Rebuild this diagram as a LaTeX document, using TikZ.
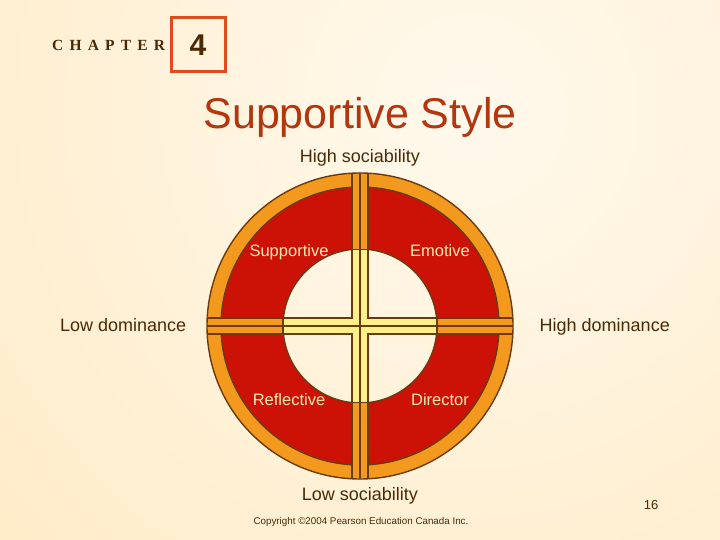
\documentclass[tikz,border=0pt]{standalone}
\usepackage{fontspec}
\setmainfont{Liberation Sans}
\newfontfamily\chapfont[LetterSpace=40]{Liberation Serif}
\definecolor{bglight}{HTML}{FFF9EC}
\definecolor{bgdark}{HTML}{FFE2AE}
\definecolor{chapred}{HTML}{E04A1C}
\definecolor{browntext}{HTML}{4A2A05}
\definecolor{titlecol}{HTML}{B3360F}
\definecolor{ringorange}{HTML}{F39A1E}
\definecolor{ringred}{HTML}{CC1206}
\definecolor{outline}{HTML}{6B3A10}
\definecolor{baryellow}{HTML}{FFF08A}
\definecolor{labelcream}{HTML}{FFE8B0}
\tikzset{
  lbl/.style={text=browntext, font=\fontsize{18}{21}\selectfont, inner sep=0pt},
  ringlbl/.style={text=labelcream, font=\fontsize{16.5}{19}\selectfont, inner sep=0pt, anchor=base},
  edge/.style={draw=outline, line width=1.4pt, line join=miter},
}
\begin{document}
\begin{tikzpicture}[x=1pt,y=-1pt]
\useasboundingbox (0,0) rectangle (720,540);
\begin{scope}
  \clip (0,0) rectangle (720,540);
  \shade[inner color=bglight, outer color=bgdark] (470,110) circle (1100);
\end{scope}

% chapter header
\node[anchor=base west, text=browntext, font=\fontsize{15.5}{18}\selectfont\bfseries\chapfont, inner sep=0pt] (chap) at (52,51) {CHAPTER};
\node[draw=chapred, line width=3pt, minimum size=54pt, inner sep=0pt, text=browntext, font=\fontsize{30}{34}\selectfont\bfseries] (box) at (198,45) {4};

% title
\node[text=titlecol, font=\fontsize{43}{50}\selectfont, inner sep=0pt, anchor=base] (title) at (360,129) {Supportive Style};

% wheel
\begin{scope}[shift={(360,326)}]
  \fill[ringorange, even odd rule] (0,0) circle (153) (0,0) circle (139);
  \path[fill=ringred, even odd rule, edge] (0,0) circle (139) (0,0) circle (77);
  \begin{scope}
    \clip (0,0) circle (153);
    \path[fill=ringorange, edge] (-8,-170) -- (8,-170) -- (8,-8) -- (170,-8) -- (170,8) -- (8,8) -- (8,170) -- (-8,170) -- (-8,8) -- (-170,8) -- (-170,-8) -- (-8,-8) -- cycle;
    \path[fill=baryellow, edge] (-8,-76.5) -- (8,-76.5) -- (8,-8) -- (77,-8) -- (77,8) -- (8,8) -- (8,76.5) -- (-8,76.5) -- (-8,8) -- (-77,8) -- (-77,-8) -- (-8,-8) -- cycle;
    \draw[draw=outline, line width=1.2pt] (0,-170) -- (0,170) (-170,0) -- (170,0);
  \end{scope}
  \draw[edge] (0,0) circle (153);
\end{scope}

% ring labels
\node[ringlbl] (supp) at (289,256) {Supportive};
\node[ringlbl] (emot) at (440,256) {Emotive};
\node[ringlbl] (refl) at (289,405) {Reflective};
\node[ringlbl] (dire) at (440,405) {Director};

% axis labels
\node[lbl, anchor=base] (hs) at (360,163) {High sociability};
\node[lbl, anchor=base] (ls) at (360,500) {Low sociability};
\node[lbl, anchor=base west] (ld) at (60,331) {Low dominance};
\node[lbl, anchor=base east] (hd) at (670,331) {High dominance};

% footer
\node[text=browntext, font=\fontsize{9.8}{12}\selectfont, inner sep=0pt, anchor=base] (copy) at (361,524) {Copyright ©2004 Pearson Education Canada Inc.};
\node[text=browntext, font=\fontsize{13}{15}\selectfont, inner sep=0pt, anchor=base] (page) at (651,509) {16};
\end{tikzpicture}
\end{document}
